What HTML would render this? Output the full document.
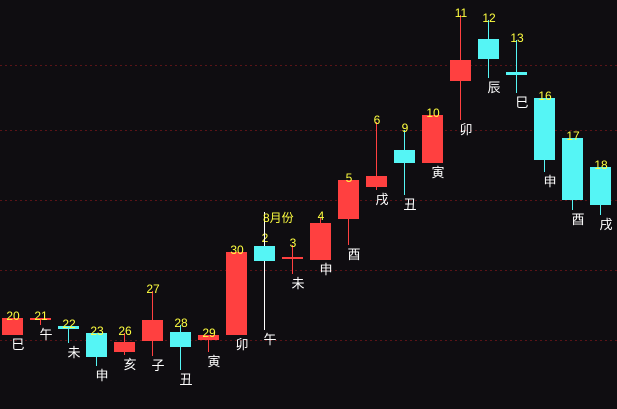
<!DOCTYPE html>
<html><head><meta charset="utf-8">
<style>
html,body{margin:0;padding:0;background:#0f0d11;}
svg{display:block;font-family:"Liberation Sans","Noto Sans CJK SC",sans-serif;}
</style></head>
<body>
<svg id="chart" width="617" height="409" viewBox="0 0 617 409">
<rect width="617" height="409" fill="#0f0d11"/>
<g id="grid"></g>
<g id="candles"></g>
</svg>
<script>
// price units: price = 409 - pixel y
const dayLabels = ["20","21","22","23","26","27","28","29","30","2","3","4","5","6","9","10","11","12","13","16","17","18","19"];
const branchLabels = ["巳","午","未","申","亥","子","丑","寅","卯","午","未","申","酉","戌","丑","寅","卯","辰","巳","申","酉","戌",""];
const opens  = [74,90,83,76,57,68,77,69,74,163,150,149,190,222,259,246,328,370,337,311,271,242,204];
const closes = [91,91,80,52,67,89,62,74,157,148,152,186,229,233,246,294,349,350,334,249,209,204,194];
const highs  = [91,91,83,76,76,118,84,74,157,169,164,191,229,287,279,294,394,389,369,311,271,242,204];
const lows   = [74,84,66,43,54,53,39,57,74,79,135,149,164,219,214,246,289,331,316,237,199,194,194];
const gridPrices = [344,279,209,139,69];

const svg = document.getElementById('chart');
const NS = 'http://www.w3.org/2000/svg';
const yOf = p => 409 - p;
const xOf = i => 12 + i * 28;
function mk(tag, attrs, parent){ const e=document.createElementNS(NS,tag); for(const k in attrs) e.setAttribute(k,attrs[k]); parent.appendChild(e); return e; }
const grid = document.getElementById('grid');
gridPrices.forEach(p=>{
  const l = mk('line',{x1:0,x2:617,y1:yOf(p)+0.5,y2:yOf(p)+0.5,stroke:'#5a1418','stroke-dasharray':'2,3','stroke-width':1},grid);
  
  
});
const cg = document.getElementById('candles');
dayLabels.forEach((d,i)=>{
  const x = xOf(i);
  const up = closes[i] >= opens[i];
  const col = up ? '#ff4040' : '#55f5f5';
  const g = mk('g',{},cg);
  
  
  const wickCol = i===9 ? '#ffffff' : col;
  mk('line',{x1:x+0.5,x2:x+0.5,y1:yOf(highs[i]),y2:yOf(lows[i]),stroke:wickCol,'stroke-width':1},g);
  const top = yOf(Math.max(opens[i],closes[i])), bot = yOf(Math.min(opens[i],closes[i]));
  mk('rect',{x:x-10,y:top,width:21,height:Math.max(2,bot-top),fill:col},g);
  const t = mk('text',{x:x+1,y:yOf(highs[i])+2,fill:'#ffff40','font-size':12,'text-anchor':'middle'},g);
  t.textContent = d;
  
  
  if(branchLabels[i]){
    const b = mk('text',{x:x+6,y:yOf(lows[i])+14,fill:'#ffffff','font-size':13,'text-anchor':'middle'},g);
    b.textContent = branchLabels[i];
    
    
  }
});
// month marker
const mg = mk('g',{},cg);


mk('line',{x1:264.5,x2:264.5,y1:212,y2:246,stroke:'#ffffff','stroke-width':1},mg);
const mt = mk('text',{x:263,y:222,fill:'#ffff40','font-size':12},mg);
mt.textContent = '8月份';
</script>
</body></html>
